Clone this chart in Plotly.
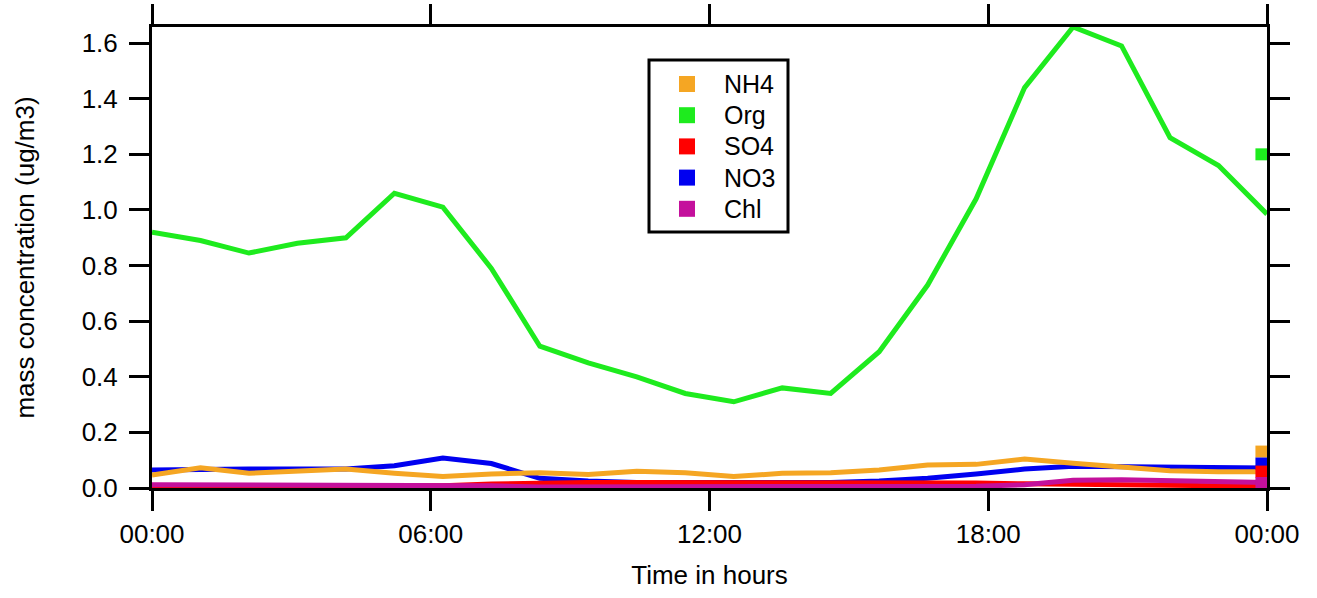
import numpy as np
import plotly.graph_objects as go

# Diurnal profile: 24 bins spread across one day (hours)
hours = np.linspace(0, 24, 24)

nh4 = [0.047, 0.073, 0.053, 0.062, 0.068, 0.053, 0.041, 0.050, 0.055, 0.049, 0.060, 0.055,
       0.041, 0.053, 0.055, 0.065, 0.083, 0.085, 0.104, 0.089, 0.077, 0.062, 0.058, 0.058]
org = [0.92, 0.89, 0.845, 0.88, 0.90, 1.06, 1.01, 0.79, 0.51, 0.45, 0.40, 0.34,
       0.31, 0.36, 0.34, 0.49, 0.73, 1.04, 1.44, 1.658, 1.59, 1.26, 1.16, 0.985]
so4 = [0.008, 0.008, 0.008, 0.008, 0.008, 0.008, 0.008, 0.014, 0.018, 0.020, 0.020, 0.020,
       0.020, 0.020, 0.020, 0.020, 0.020, 0.018, 0.015, 0.012, 0.012, 0.010, 0.008, 0.008]
no3 = [0.065, 0.068, 0.068, 0.068, 0.068, 0.080, 0.108, 0.088, 0.035, 0.025, 0.020, 0.020,
       0.020, 0.020, 0.020, 0.025, 0.035, 0.050, 0.068, 0.078, 0.077, 0.075, 0.073, 0.072]
chl = [0.012, 0.012, 0.012, 0.012, 0.012, 0.012, 0.012, 0.008, 0.004, 0.004, 0.004, 0.004,
       0.004, 0.004, 0.004, 0.004, 0.004, 0.006, 0.012, 0.028, 0.030, 0.026, 0.020, 0.020]

# Summary values shown as squares at the end of the day
summary_hour = 23.88
summary = {"NH4": 0.131, "Org": 1.20, "SO4": 0.059, "NO3": 0.088, "Chl": 0.018}

legend_order = ["NH4", "Org", "SO4", "NO3", "Chl"]
colors = {"NH4": "#F5A623", "Org": "#1EEB1E", "SO4": "#FF0000",
          "NO3": "#0000F0", "Chl": "#C4109C"}
series = {"NH4": nh4, "Org": org, "SO4": so4, "NO3": no3, "Chl": chl}

tick_vals = [0, 6, 12, 18, 24]
tick_text = ["00:00", "06:00", "12:00", "18:00", "00:00"]
y_ticks = [0.0, 0.2, 0.4, 0.6, 0.8, 1.0, 1.2, 1.4, 1.6]

FONT = "Liberation Sans, Arial, sans-serif"
FS = 26

W, H = 1317, 598
M = dict(l=152, r=50, t=27, b=110)
plot_w = W - M["l"] - M["r"]
plot_h = H - M["t"] - M["b"]


def px_x(px):
    """page pixel column -> paper x"""
    return (px - M["l"]) / plot_w


def px_y(py):
    """page pixel row -> paper y"""
    return (H - M["b"] - py) / plot_h


fig = go.Figure()

# profile lines, drawn back to front
for name in ["Org", "NO3", "SO4", "Chl", "NH4"]:
    fig.add_trace(go.Scatter(
        x=hours, y=series[name], mode="lines",
        line=dict(color=colors[name], width=5),
        showlegend=False, hoverinfo="skip"))

# summary squares
for name in ["Org", "NH4", "NO3", "SO4", "Chl"]:
    fig.add_trace(go.Scatter(
        x=[summary_hour], y=[summary[name]], mode="markers",
        marker=dict(symbol="square", size=12, color=colors[name]),
        showlegend=False, cliponaxis=False))

# boxed legend with square swatches
shapes = [dict(type="rect", xref="paper", yref="paper",
               x0=px_x(649), x1=px_x(788), y0=px_y(232), y1=px_y(60),
               line=dict(color="black", width=3), fillcolor="white", layer="above")]
annotations = []
row_top, row_gap, sw = 84, 31.2, 16
for i, name in enumerate(legend_order):
    cy = row_top + i * row_gap
    shapes.append(dict(type="rect", xref="paper", yref="paper",
                       x0=px_x(687 - sw / 2), x1=px_x(687 + sw / 2),
                       y0=px_y(cy + sw / 2), y1=px_y(cy - sw / 2),
                       line=dict(width=0), fillcolor=colors[name], layer="above"))
    annotations.append(dict(xref="paper", yref="paper", x=px_x(722), y=px_y(cy),
                            xanchor="left", yanchor="middle", text=name, showarrow=False,
                            font=dict(family=FONT, size=25, color="black")))

axis_common = dict(
    showline=True, linewidth=3, linecolor="black", mirror="allticks",
    ticks="outside", ticklen=20, tickwidth=3, tickcolor="black",
    showgrid=False, zeroline=False, automargin=False,
    tickfont=dict(family=FONT, size=FS, color="black"),
)

fig.update_layout(
    width=W, height=H, margin=M, showlegend=False,
    paper_bgcolor="white", plot_bgcolor="white",
    font=dict(family=FONT, size=FS, color="black"),
    xaxis=dict(range=[0, 24], tickvals=tick_vals, ticktext=tick_text,
               title=dict(text="Time in hours", font=dict(family=FONT, size=FS), standoff=18),
               ticklabelstandoff=1, **axis_common),
    yaxis=dict(range=[0, 1.658], tickvals=y_ticks, tickformat=".1f",
               title=dict(text="mass concentration (ug/m3)", font=dict(family=FONT, size=FS), standoff=40),
               ticklabelstandoff=6, **axis_common),
    shapes=shapes, annotations=annotations,
)

fig.write_html("out.html")
